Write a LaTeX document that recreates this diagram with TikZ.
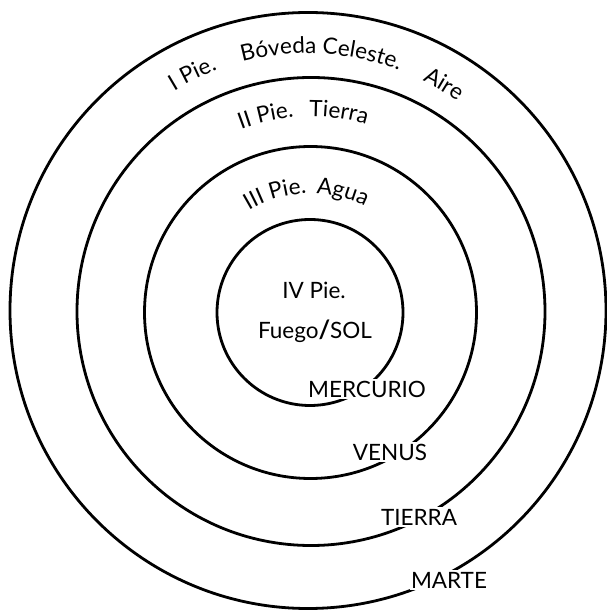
\documentclass[tikz,border=0pt]{standalone}
\usepackage{fontspec}
\setmainfont{Lato}
\usetikzlibrary{decorations.text}
\newcommand\lblfont{\fontsize{22.5}{22.5}\selectfont}

\begin{document}
\begin{tikzpicture}[x=1pt,y=1pt,
  ring/.style={line width=2.8pt},
  lab/.style={font=\lblfont, fill=white, inner sep=1.5pt},
  plain/.style={font=\lblfont, inner sep=1pt},
  curved/.style={decorate, decoration={text along path, text={|\lblfont|#1}, text align=center}}]
\useasboundingbox (0,0) rectangle (607,611);
\coordinate (c1) at (310,298.5);
\coordinate (c2) at (310.5,298.5);
\coordinate (c3) at (311,299.5);
\coordinate (c4) at (308,300.5);

\draw[ring] (c1) circle[radius=93];
\draw[ring] (c2) circle[radius=166];
\draw[ring] (c3) circle[radius=234];
\draw[ring] (c4) circle[radius=298];

\node[plain] (iv) at (314,321) {IV Pie.};
\node[plain] (fuego) at (315,280) {Fuego{\bfseries\fontsize{25}{25}\selectfont/}SOL};

\node[lab] (merc) at (367,222) {MERCURIO};
\node[lab] (venus) at (390,159) {VENUS};
\node[lab] (tierra) at (419,94) {TIERRA};
\node[lab] (marte) at (449,31) {MARTE};

\path[curved={I Pie.}] ([shift={(136:257)}]c4) arc[start angle=136, end angle=96, radius=257];
\path[curved={Bóveda Celeste.}] ([shift={(117:257)}]c4) arc[start angle=117, end angle=57, radius=257];
\path[curved={Aire}] ([shift={(79:257)}]c4) arc[start angle=79, end angle=39, radius=257];

\path[curved={II Pie.}] ([shift={(123:195)}]c3) arc[start angle=123, end angle=83, radius=195];
\path[curved={Tierra}] ([shift={(102:195)}]c3) arc[start angle=102, end angle=62, radius=195];

\path[curved={III Pie.}] ([shift={(136.5:119)}]c2) arc[start angle=136.5, end angle=76.5, radius=119];
\path[curved={Agua}] ([shift={(105:119)}]c2) arc[start angle=105, end angle=45, radius=119];
\end{tikzpicture}
\end{document}
